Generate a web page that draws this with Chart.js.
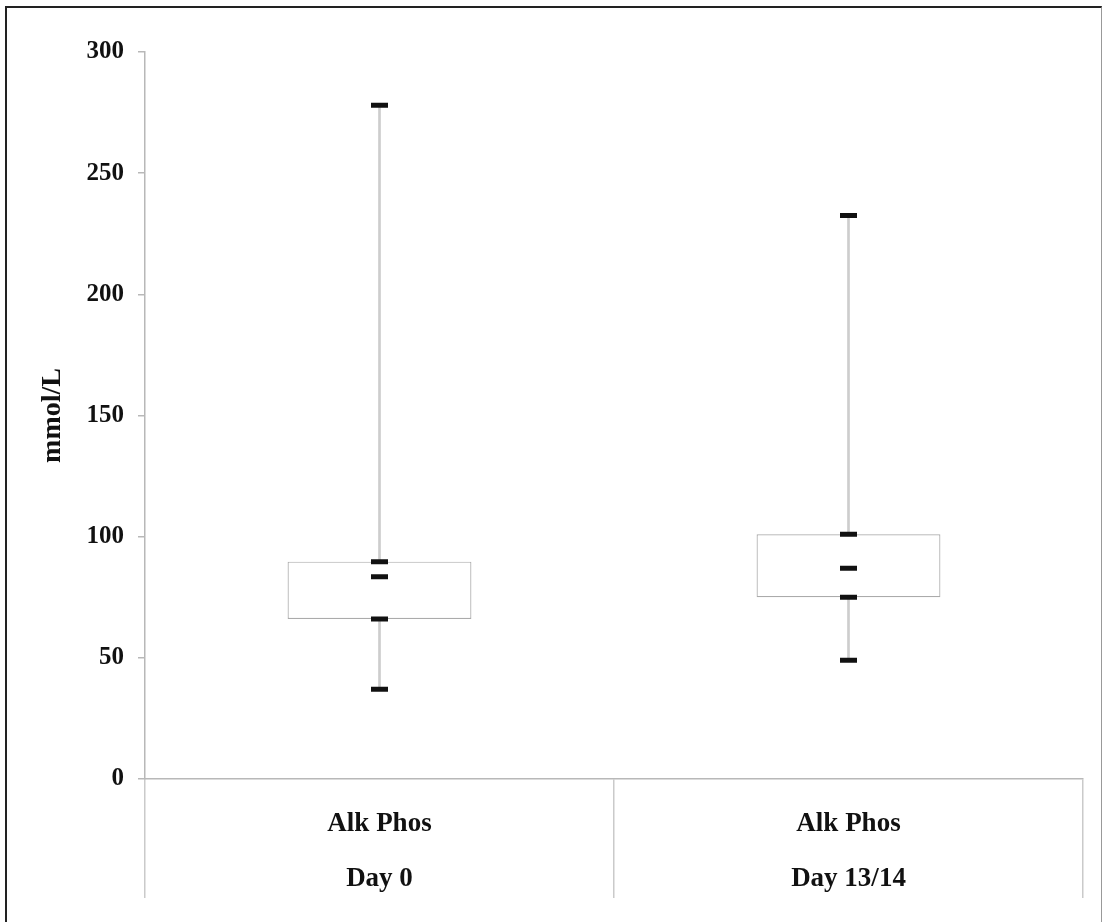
<!DOCTYPE html>
<html>
<head>
<meta charset="utf-8">
<script src="https://cdn.jsdelivr.net/npm/chart.js@4/dist/chart.umd.min.js"></script>
<style>
  html, body { margin: 0; padding: 0; background: #fff; }
  #wrap { position: relative; width: 1102px; height: 922px; }
  #frame { position: absolute; left: 5px; top: 6px; width: 1094px; height: 930px;
           border-top: 2px solid #222; border-left: 2px solid #222; border-right: 1px solid #999;
           pointer-events: none; }
</style>
</head>
<body>
<div id="wrap">
  <canvas id="c" width="1102" height="922"></canvas>
  <div id="frame"></div>
</div>
<script>
const categories = [['Alk Phos', 'Day 0'], ['Alk Phos', 'Day 13/14']];
const minVals    = [37, 49];
const q1Vals     = [66, 75];
const medianVals = [83.5, 87];
const q3Vals     = [89.7, 101];
const maxVals    = [278, 232.5];
const yTicks     = [0, 50, 100, 150, 200, 250, 300];
const yTitle     = 'mmol/L';

const serif = "'Liberation Serif', 'Times New Roman', serif";

function markerSet(label, values) {
  return {
    type: 'line',
    label: label,
    data: values,
    showLine: false,
    pointStyle: 'line',
    pointRadius: 8.5,
    pointHoverRadius: 8.5,
    pointBorderWidth: 5,
    pointHoverBorderWidth: 5,
    borderColor: '#111',
    backgroundColor: '#111',
    order: 1
  };
}

new Chart(document.getElementById('c'), {
  type: 'bar',
  data: {
    labels: categories,
    datasets: [
      {
        label: 'range',
        data: minVals.map((v, i) => [v, maxVals[i]]),
        backgroundColor: '#cdcdcd',
        borderWidth: 0,
        barThickness: 2,
        grouped: false,
        order: 3
      },
      {
        label: 'box',
        data: q1Vals.map((v, i) => [v, q3Vals[i]]),
        backgroundColor: '#ffffff',
        borderColor: '#ababab',
        borderWidth: 1.2,
        borderSkipped: false,
        categoryPercentage: 1,
        barPercentage: 0.392,
        grouped: false,
        order: 2
      },
      markerSet('max', maxVals),
      markerSet('q3', q3Vals),
      markerSet('median', medianVals),
      markerSet('q1', q1Vals),
      markerSet('min', minVals)
    ]
  },
  options: {
    responsive: false,
    animation: false,
    layout: { padding: { top: 52, right: 19, left: 0, bottom: 0 } },
    plugins: { legend: { display: false }, tooltip: { enabled: false } },
    scales: {
      x: {
        offset: true,
        grid: {
          offset: true,
          drawOnChartArea: false,
          drawTicks: true,
          tickLength: 119,
          color: '#cacaca',
          lineWidth: 1.5
        },
        border: { display: true, color: '#b8b8b8', width: 1.5 },
        ticks: {
          padding: -102,
          color: '#111',
          font: { family: serif, size: 27, weight: 'bold', lineHeight: 2.05 },
          maxRotation: 0,
          autoSkip: false
        },
        afterFit: (s) => { s.height = 143; }
      },
      y: {
        min: 0,
        max: 300,
        afterBuildTicks: (s) => { s.ticks = yTicks.map(v => ({ value: v })); },
        grid: {
          drawOnChartArea: false,
          drawTicks: true,
          tickLength: 7,
          color: '#b8b8b8',
          lineWidth: 1.5
        },
        border: { display: true, color: '#b8b8b8', width: 1.5 },
        ticks: {
          padding: 14,
          color: '#111',
          font: { family: serif, size: 25, weight: 'bold' }
        },
        title: {
          display: true,
          text: yTitle,
          color: '#111',
          font: { family: serif, size: 28, weight: 'bold' },
          padding: { top: 36, bottom: 0 }
        },
        afterFit: (s) => { s.width = 145; }
      }
    }
  }
});
</script>
</body>
</html>
